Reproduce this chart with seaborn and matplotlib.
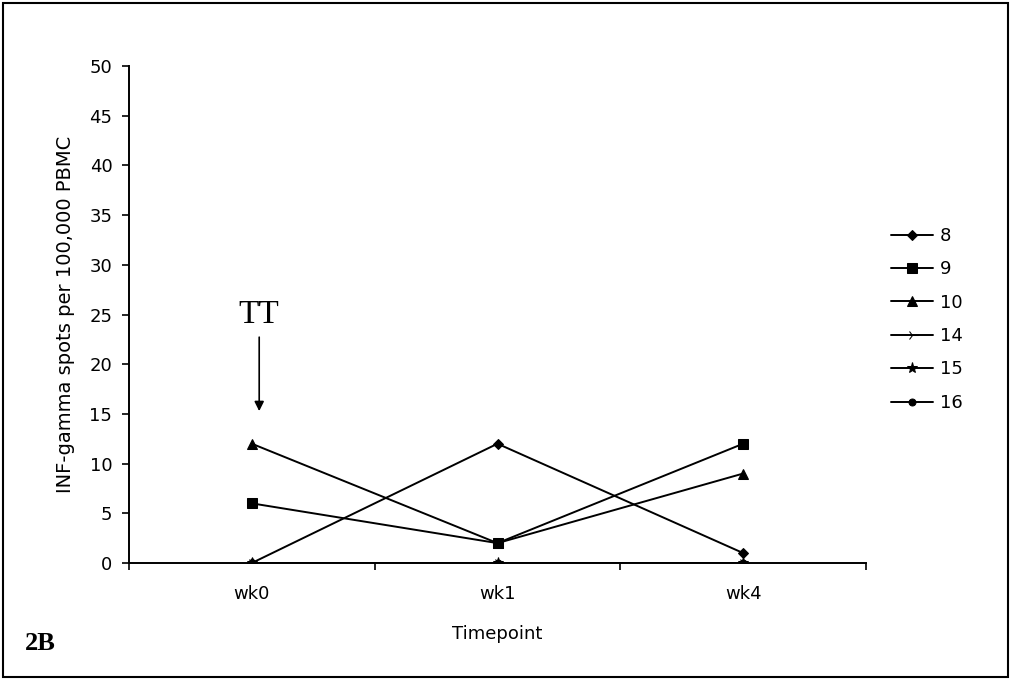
import matplotlib.pyplot as plt
import pandas as pd
import seaborn as sns

# Data
timepoints = ['wk0', 'wk1', 'wk4']
subjects = ['8', '9', '10', '14', '15', '16']
s8 = [0, 12, 1]
s9 = [6, 2, 12]
s10 = [12, 2, 9]
s14 = [0, 0, 0]
s15 = [0, 0, 0]
s16 = [0, 0, 0]

series = [s8, s9, s10, s14, s15, s16]
markers = ['D', 's', '^', '4', '*', 'o']
msizes = [5, 7, 7, 8, 8, 5]

sns.set_style('white')
plt.rcParams['font.family'] = ['DejaVu Sans']
plt.rcParams['text.color'] = 'black'
plt.rcParams['axes.labelcolor'] = 'black'
plt.rcParams['xtick.color'] = 'black'
plt.rcParams['ytick.color'] = 'black'

fig = plt.figure(figsize=(10.13, 6.79), dpi=100)
ax = fig.add_axes([129 / 1013, 1 - 563 / 679, (866 - 129) / 1013, (563 - 66) / 679])

pos = list(range(len(timepoints)))
for name, vals, m, ms in zip(subjects, series, markers, msizes):
    df = pd.DataFrame({'x': pos, 'y': vals})
    sns.lineplot(data=df, x='x', y='y', ax=ax, color='black', linewidth=1.4,
                 marker=m, markersize=ms, markeredgecolor='black',
                 markerfacecolor='black', label=name)

ax.set_xlim(-0.5, 2.5)
ax.set_ylim(0, 50)
ax.set_yticks(range(0, 51, 5))
ax.set_xticks(pos)
ax.set_xticklabels(timepoints)
ax.set_xticks([-0.5, 0.5, 1.5, 2.5], minor=True)
ax.tick_params(axis='x', which='major', length=0, pad=16, labelsize=13)
ax.tick_params(axis='x', which='minor', length=5, width=1.2, direction='out',
               color='black', bottom=True)
ax.tick_params(axis='y', length=5, width=1.2, direction='out', color='black',
               left=True, labelsize=13, pad=7)
for side in ['top', 'right']:
    ax.spines[side].set_visible(False)
for side in ['left', 'bottom']:
    ax.spines[side].set_color('black')
    ax.spines[side].set_linewidth(1.4)

ax.set_xlabel('Timepoint', fontsize=13, labelpad=16)
ax.set_ylabel('INF-gamma spots per 100,000 PBMC', fontsize=14, labelpad=10)

ax.legend(loc='center left', bbox_to_anchor=(1.012, 0.49), frameon=False,
          fontsize=13, handlelength=2.3, labelspacing=0.85, handletextpad=0.4,
          labelcolor='black')

# TT annotation with arrow
ax.annotate('', xy=(0.03, 15.0), xytext=(0.03, 23.0),
            arrowprops=dict(arrowstyle='-|>', color='black', lw=1.2,
                            mutation_scale=14))
ax.text(0.03, 23.4, 'TT', ha='center', va='bottom', fontsize=24, color='black',
        family=['Liberation Serif', 'DejaVu Serif'])

fig.text(25 / 1013, 1 - 643 / 679, '2B', fontsize=19, fontweight='bold',
         va='center', color='black', family=['Liberation Serif', 'DejaVu Serif'])

# border around the whole figure
fig.patches.append(plt.Rectangle((0.003, 0.003), 0.992, 0.993, transform=fig.transFigure,
                                 fill=False, edgecolor='black', linewidth=1.5))

fig.savefig('out.png', dpi=100)
